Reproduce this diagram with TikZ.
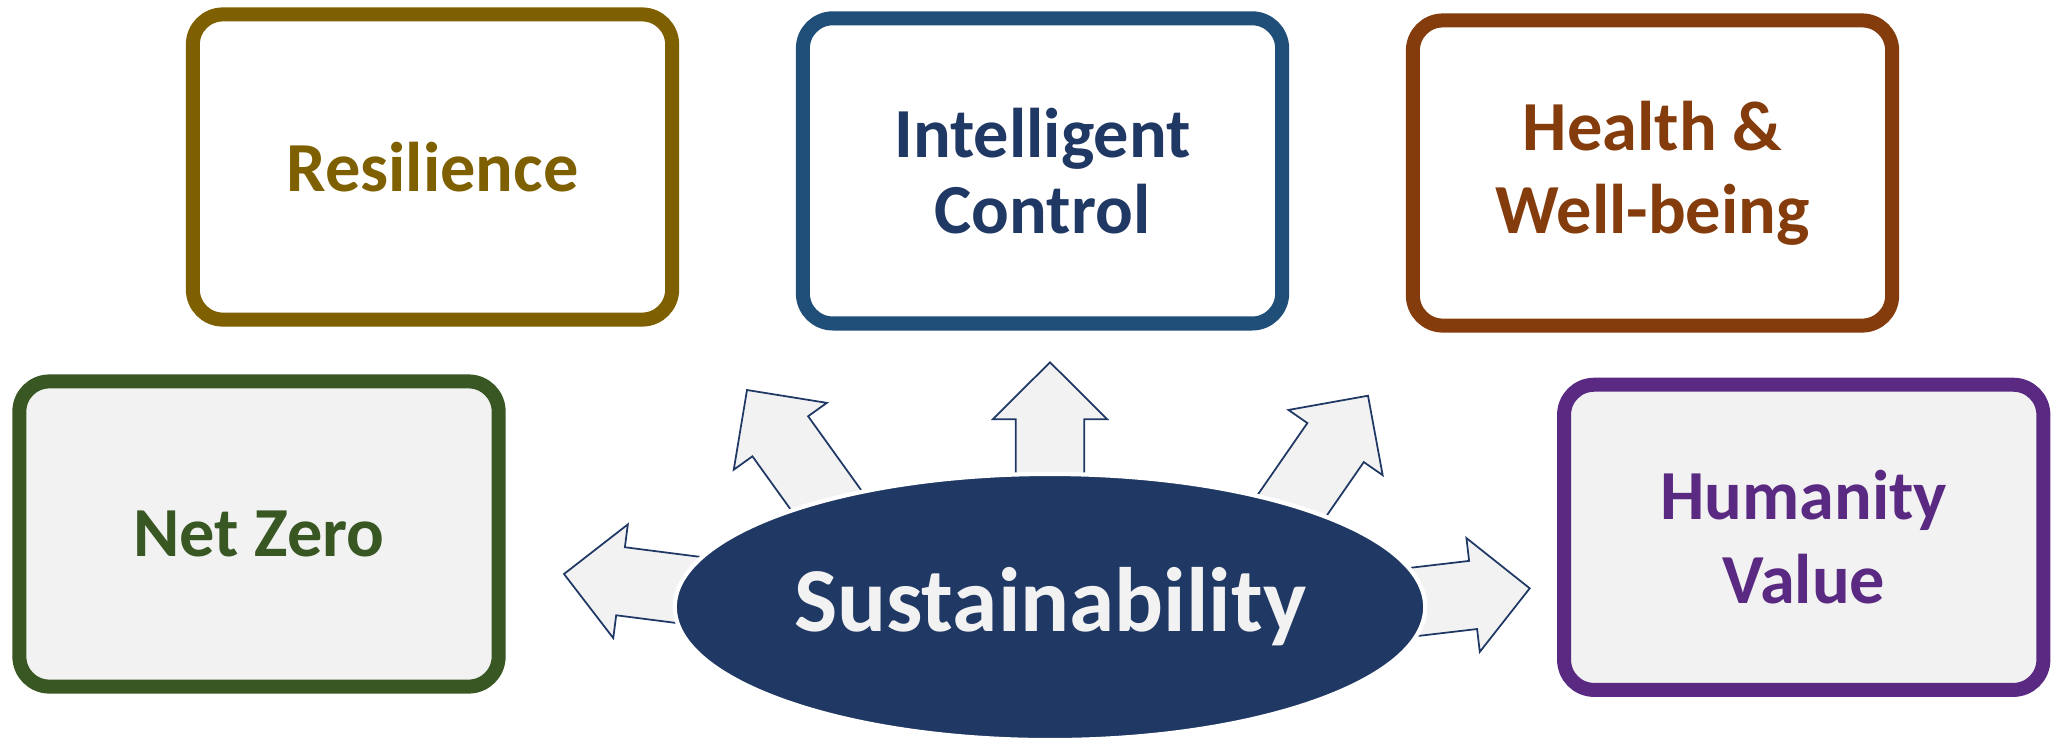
\documentclass[tikz,border=0pt]{standalone}
\usepackage{fontspec}
\setmainfont{Carlito}
\usetikzlibrary{shapes.geometric}
\definecolor{navy}{HTML}{203864}
\definecolor{ctrlblue}{HTML}{1F4E79}
\definecolor{olive}{HTML}{7F6000}
\definecolor{rust}{HTML}{843C0C}
\definecolor{leaf}{HTML}{385723}
\definecolor{plum}{HTML}{5A2A82}
\definecolor{paper}{HTML}{F2F2F2}
\tikzset{
  boxstyle/.style={draw, rounded corners=0.3cm, line width=0.14cm,
    minimum width=4.79cm, minimum height=3.05cm, inner sep=0pt,
    align=center, font=\bfseries\fontsize{20}{22}\selectfont},
  blockarrow/.style={draw=navy, fill=paper, line width=0.5pt, line join=miter},
  hub/.style={ellipse, fill=navy, draw=white, line width=1.2pt,
    minimum width=7.5cm, minimum height=2.66cm, inner sep=0pt,
    text=paper, font=\bfseries\fontsize{26}{30}\selectfont}
}
\newcommand\blockarrowat[3]{%
  \draw[blockarrow, shift={(#1,#2)}, rotate=#3]
    (0,0) -- (-57,57.3) -- (-57,34.3) -- (-230,34.3) -- (-230,-34.3)
    -- (-57,-34.3) -- (-57,-57.3) -- cycle;}
\begin{document}
\begin{tikzpicture}[x=0.01cm,y=0.01cm]
\useasboundingbox (0,0) rectangle (2058,741);
% arrows (behind the hub)
\blockarrowat{564}{167}{172.7}
\blockarrowat{747}{351}{125.7}
\blockarrowat{1050}{378.7}{90}
\blockarrowat{1368}{345.3}{55.3}
\blockarrowat{1529.7}{152.7}{6.7}
% hub
\node[hub] (sus) at (1050,134) {Sustainability};
% boxes
\node[boxstyle, draw=olive, text=olive, fill=white] (res) at (432.5,574) {Resilience};
\node[boxstyle, draw=ctrlblue, text=navy, fill=white,
  font=\bfseries\fontsize{20}{21.6}\selectfont] (ctl) at (1042.5,570.1) {Intelligent\\Control};
\node[boxstyle, draw=rust, text=rust, fill=white,
  font=\bfseries\fontsize{20}{23.6}\selectfont] (hlt) at (1652.5,568) {Health \&\\Well-being};
\node[boxstyle, draw=leaf, text=leaf, fill=paper] (net) at (259,207) {Net Zero};
\node[boxstyle, draw=plum, text=plum, fill=paper,
  font=\bfseries\fontsize{20}{23.9}\selectfont] (hum) at (1803.7,203.7) {Humanity\\Value};
\end{tikzpicture}
\end{document}
